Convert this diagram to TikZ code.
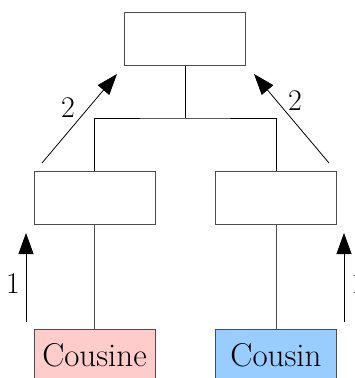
\documentclass[tikz,border=0pt]{standalone}
\usepackage{fontspec}
\usetikzlibrary{arrows.meta}
\definecolor{pinkbox}{HTML}{FFCCCC}
\definecolor{bluebox}{HTML}{99CCFF}
\tikzset{
    cell/.style={draw=black!70, line width=1pt, minimum width=121pt, minimum height=53pt, inner sep=0pt},
    wordtext/.style={font=\fontsize{33}{33}\selectfont},
    numtext/.style={font=\fontsize{30}{30}\selectfont},
    flow/.style={line width=0.8pt, -{Triangle[length=21pt, width=15pt]}}
}

\begin{document}
\begin{tikzpicture}[x=1pt, y=-1pt]
    \useasboundingbox (0,0) rectangle (354,378);

    \node[cell] (top) at (185,38.5) {};
    \node[cell] (midL) at (94.5,197.5) {};
    \node[cell] (midR) at (276,197.5) {};
    \node[cell, fill=pinkbox, wordtext] (cousine) at (94.5,355.5) {Cousine};
    \node[cell, fill=bluebox, wordtext] (cousin) at (276,355.5) {Cousin};

    \coordinate (fork) at (185,118);
    \draw[line width=0.8pt] (top.south) -- (fork);
    \draw[line width=0.8pt] (midL.north) |- (fork) -| (midR.north);
    \draw[line width=0.8pt, black!70] (midL.south) -- (cousine.north);
    \draw[line width=0.8pt, black!70] (midR.south) -- (cousin.north);

    % arrows
    \coordinate (oneLs) at (26,322);
    \coordinate (oneLe) at (26,233);
    \coordinate (oneRs) at (344,322);
    \coordinate (oneRe) at (344,233);
    \coordinate (twoLs) at (42,163);
    \coordinate (twoLe) at (117,74);
    \coordinate (twoRs) at (329,163);
    \coordinate (twoRe) at (254,74);
    \draw[flow] (oneLs) -- (oneLe);
    \draw[flow] (oneRs) -- (oneRe);
    \draw[flow] (twoLs) -- (twoLe);
    \draw[flow] (twoRs) -- (twoRe);
    \node[numtext] (labL1) at (13,284) {1};
    \node[numtext] (labR1) at (358,284) {1};
    \node[numtext] (labL2) at (68,108) {2};
    \node[numtext] (labR2) at (295,101) {2};
\end{tikzpicture}
\end{document}
